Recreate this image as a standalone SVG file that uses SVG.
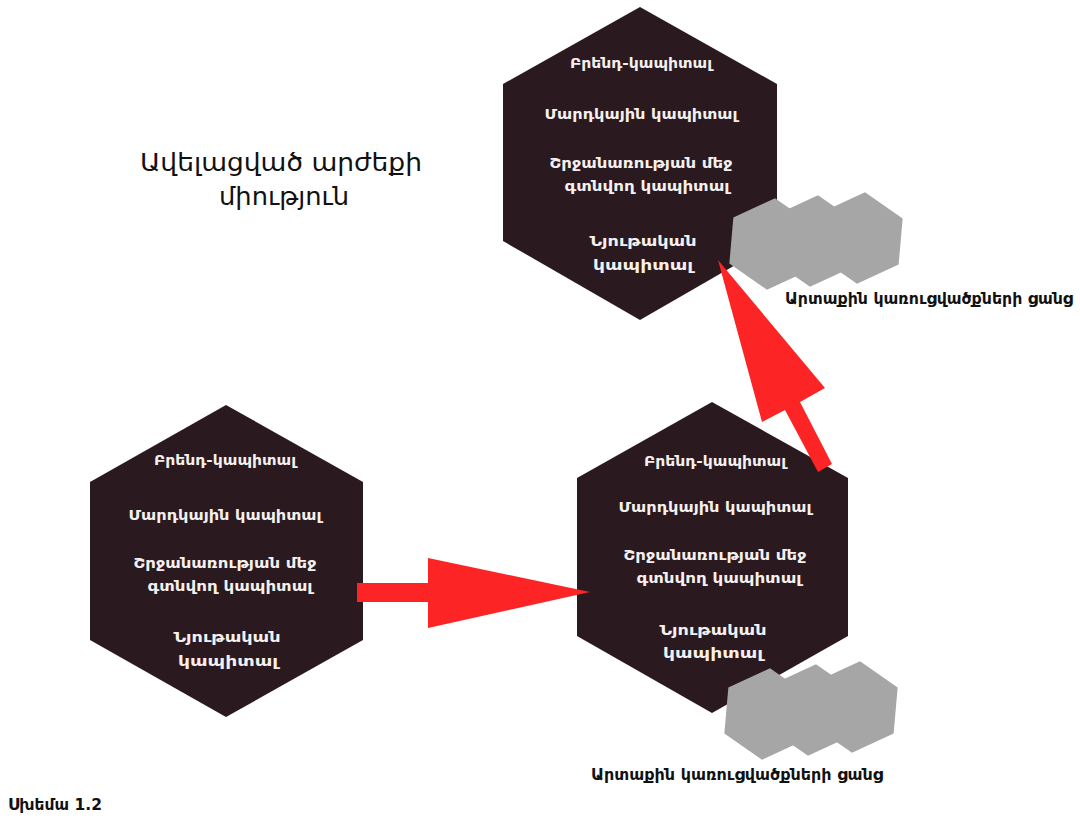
<svg xmlns="http://www.w3.org/2000/svg" xmlns:xlink="http://www.w3.org/1999/xlink" width="1080" height="818" viewBox="0 0 1080 818">
  <style>
    .hex { fill: #2a1a1f; }
    .cloud { fill: #a6a6a6; }
    .arrow { fill: #fc2424; }
    .in { font-family: "DejaVu Sans", "Noto Sans", sans-serif; font-size: 14px; font-weight: bold; fill: #f5f0f0; text-anchor: middle; }
    .title { font-family: "DejaVu Sans", "Noto Sans", sans-serif; font-size: 25px; fill: #111; text-anchor: middle; }
    .label { font-family: "DejaVu Sans", "Noto Sans", sans-serif; font-size: 15px; font-weight: bold; fill: #111; text-anchor: middle; }
    .caption { font-family: "DejaVu Sans", "Noto Sans", sans-serif; font-size: 15px; font-weight: bold; fill: #111; }
  </style>
  <defs>
    <!-- small grey hexagon used for the network clusters -->
    <polygon id="cell" class="cloud" points="0,-46 39.8,-23 39.8,23 0,46 -39.8,23 -39.8,-23"/>
  </defs>

  <rect width="1080" height="818" fill="#ffffff"/>

  <g id="title">
    <text class="title" x="281" y="171" textLength="282" lengthAdjust="spacingAndGlyphs">Ավելացված արժեքի</text>
    <text class="title" x="284" y="205" textLength="130" lengthAdjust="spacingAndGlyphs">միություն</text>
  </g>

  <!-- upper company -->
  <g id="hex-top">
    <polygon class="hex" points="640,7 777,84 777,241 640,320 503,241 503,84"/>
    <text class="in" x="641" y="68" textLength="142" lengthAdjust="spacingAndGlyphs">Բրենդ-կապիտալ</text>
    <text class="in" x="641" y="119" textLength="193" lengthAdjust="spacingAndGlyphs">Մարդկային կապիտալ</text>
    <text class="in" x="641" y="168" textLength="183" lengthAdjust="spacingAndGlyphs">Շրջանառության մեջ</text>
    <text class="in" x="647" y="191" textLength="165" lengthAdjust="spacingAndGlyphs">գտնվող կապիտալ</text>
    <text class="in" x="643" y="246" textLength="107" lengthAdjust="spacingAndGlyphs">Նյութական</text>
    <text class="in" x="643" y="270" textLength="100" lengthAdjust="spacingAndGlyphs">կապիտալ</text>
  </g>

  <!-- lower-left company -->
  <g id="hex-left">
    <polygon class="hex" points="226,405 363,482 363,640 226,717 90,640 90,482"/>
    <text class="in" x="225" y="465" textLength="142" lengthAdjust="spacingAndGlyphs">Բրենդ-կապիտալ</text>
    <text class="in" x="225" y="520" textLength="193" lengthAdjust="spacingAndGlyphs">Մարդկային կապիտալ</text>
    <text class="in" x="225" y="568" textLength="183" lengthAdjust="spacingAndGlyphs">Շրջանառության մեջ</text>
    <text class="in" x="230" y="591" textLength="165" lengthAdjust="spacingAndGlyphs">գտնվող կապիտալ</text>
    <text class="in" x="227" y="642" textLength="107" lengthAdjust="spacingAndGlyphs">Նյութական</text>
    <text class="in" x="228" y="666" textLength="100" lengthAdjust="spacingAndGlyphs">կապիտալ</text>
  </g>

  <!-- lower-right company -->
  <g id="hex-right">
    <polygon class="hex" points="712,402 848,478 848,636 712,713 577,636 577,478"/>
    <text class="in" x="715" y="466" textLength="142" lengthAdjust="spacingAndGlyphs">Բրենդ-կապիտալ</text>
    <text class="in" x="715" y="512" textLength="193" lengthAdjust="spacingAndGlyphs">Մարդկային կապիտալ</text>
    <text class="in" x="715" y="560" textLength="183" lengthAdjust="spacingAndGlyphs">Շրջանառության մեջ</text>
    <text class="in" x="719" y="583" textLength="165" lengthAdjust="spacingAndGlyphs">գտնվող կապիտալ</text>
    <text class="in" x="713" y="635" textLength="107" lengthAdjust="spacingAndGlyphs">Նյութական</text>
    <text class="in" x="713" y="658" textLength="100" lengthAdjust="spacingAndGlyphs">կապիտալ</text>
  </g>

  <!-- external network clusters -->
  <g id="network-top">
    <use xlink:href="#cell" transform="translate(771,244) rotate(5)"/>
    <use xlink:href="#cell" transform="translate(814,241) rotate(5)"/>
    <use xlink:href="#cell" transform="translate(861,238) rotate(5)"/>
    <text class="label" x="929" y="304" textLength="288" lengthAdjust="spacingAndGlyphs">Արտաքին կառուցվածքների ցանց</text>
  </g>
  <g id="network-bottom">
    <use xlink:href="#cell" transform="translate(766,714) rotate(5)"/>
    <use xlink:href="#cell" transform="translate(812,710) rotate(5)"/>
    <use xlink:href="#cell" transform="translate(856,707) rotate(5)"/>
    <text class="label" x="737" y="780" textLength="292" lengthAdjust="spacingAndGlyphs">Արտաքին կառուցվածքների ցանց</text>
  </g>

  <g id="connectors">
    <polygon class="arrow" points="357,583 428,583 428,558 590,592 428,628 428,602 357,602"/>
    <polygon class="arrow" points="718,260 825,388 800,402 832,464 818,472 785,410 762,422"/>
  </g>

  <text class="caption" x="8" y="810" textLength="94" lengthAdjust="spacingAndGlyphs">Սխեմա 1.2</text>
</svg>
